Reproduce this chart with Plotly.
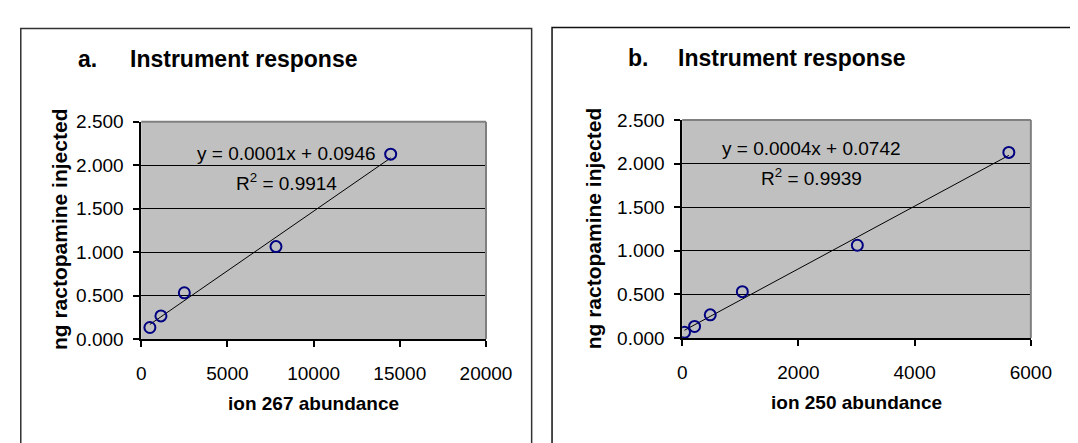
import numpy as np
import plotly.graph_objects as go

# ---- data ----
a_x = [504, 1145, 2502, 7818, 14471]
a_y = [0.133, 0.266, 0.532, 1.064, 2.128]
b_x = [40, 213, 483, 1035, 3014, 5621]
b_y = [0.0665, 0.133, 0.266, 0.532, 1.064, 2.128]

a_eq = "y = 0.0001x + 0.0946"
a_r2 = "R<sup>2</sup> = 0.9914"
b_eq = "y = 0.0004x + 0.0742"
b_r2 = "R<sup>2</sup> = 0.9939"

a_title = "Instrument response"
b_title = "Instrument response"
a_xlabel = "ion 267 abundance"
b_xlabel = "ion 250 abundance"
ylabel = "ng ractopamine injected"

W, H = 1078, 443
FONT = "Liberation Sans, Arial, sans-serif"


def px(x):
    return x / W


def py(y):
    return 1 - y / H


fig = go.Figure()

for xs, ys, xa, ya in [(a_x, a_y, "x", "y"), (b_x, b_y, "x2", "y2")]:
    slope, icpt = np.polyfit(xs, ys, 1)
    lx = [min(xs), max(xs)]
    ly = [slope * v + icpt for v in lx]
    fig.add_trace(go.Scatter(x=lx, y=ly, mode="lines", xaxis=xa, yaxis=ya,
                             line=dict(color="black", width=1), showlegend=False,
                             hoverinfo="skip"))
    fig.add_trace(go.Scatter(x=xs, y=ys, mode="markers", xaxis=xa, yaxis=ya,
                             marker=dict(symbol="circle-open", size=11, color="#000080",
                                         line=dict(width=2, color="#000080")),
                             showlegend=False))

axis_common = dict(showline=True, linecolor="black", linewidth=1.5, ticks="outside",
                   ticklen=6, tickcolor="black", tickwidth=1.5, zeroline=False,
                   tickfont=dict(family=FONT, size=19, color="black"))

# plot area pixel boxes
A = dict(x0=132, x1=487, y0=109, y1=337)
B = dict(x0=689, x1=1048, y0=107, y1=336)

fig.update_layout(
    width=W, height=H, margin=dict(l=0, r=0, t=0, b=0),
    paper_bgcolor="white", plot_bgcolor="#C0C0C0",
    xaxis=dict(domain=[px(A["x0"]), px(A["x1"])], range=[0, 20000], dtick=5000,
               tickformat="d", showgrid=False, anchor="y", ticklabelstandoff=10,
               **axis_common),
    yaxis=dict(domain=[py(A["y1"]), py(A["y0"])], range=[0, 2.5], dtick=0.5,
               tickformat=".3f", showgrid=True, gridcolor="black", gridwidth=1,
               anchor="x", ticklabelstandoff=6, **axis_common),
    xaxis2=dict(domain=[px(B["x0"]), px(B["x1"])], range=[0, 6000], dtick=2000,
                tickformat="d", showgrid=False, anchor="y2", ticklabelstandoff=10,
                **axis_common),
    yaxis2=dict(domain=[py(B["y1"]), py(B["y0"])], range=[0, 2.5], dtick=0.5,
                tickformat=".3f", showgrid=True, gridcolor="black", gridwidth=1,
                anchor="x2", ticklabelstandoff=6, **axis_common),
)

shapes = []
# panel borders
shapes.append(dict(type="rect", xref="paper", yref="paper", x0=px(8), x1=px(534),
                   y0=py(460), y1=py(11), line=dict(color="#333333", width=1.5),
                   layer="below"))
shapes.append(dict(type="rect", xref="paper", yref="paper", x0=px(555), x1=px(1100),
                   y0=py(460), y1=py(10), line=dict(color="#111111", width=1.5),
                   layer="below"))
# gray plot-area borders (top and right)
for P in (A, B):
    shapes.append(dict(type="line", xref="paper", yref="paper", x0=px(P["x0"]), x1=px(P["x1"]),
                       y0=py(P["y0"]), y1=py(P["y0"]), line=dict(color="#808080", width=2)))
    shapes.append(dict(type="line", xref="paper", yref="paper", x0=px(P["x1"]), x1=px(P["x1"]),
                       y0=py(P["y0"]), y1=py(P["y1"]), line=dict(color="#808080", width=2)))
fig.update_layout(shapes=shapes)

ann = []


def text(x, y, s, size=19, bold=False, xanchor="center", angle=0):
    ann.append(dict(x=px(x), y=py(y), xref="paper", yref="paper", text=(f"<b>{s}</b>" if bold else s),
                    showarrow=False, xanchor=xanchor, yanchor="middle", textangle=angle,
                    font=dict(family=FONT, size=size, color="black")))


# titles
text(65, 43, "a.", size=23, bold=True, xanchor="left")
text(118, 43, a_title, size=23, bold=True, xanchor="left")
text(631, 42, "b.", size=23, bold=True, xanchor="left")
text(683, 42, b_title, size=23, bold=True, xanchor="left")
# axis titles
text(309.5, 405, a_xlabel, size=19, bold=True)
text(868.5, 404, b_xlabel, size=19, bold=True)
text(48, 222, ylabel, size=21, bold=True, angle=-90)
text(598, 221, ylabel, size=21, bold=True, angle=-90)
# equations
text(282, 142, a_eq, size=19)
text(282, 172, a_r2, size=19)
text(822, 137, b_eq, size=19)
text(822, 167, b_r2, size=19)

fig.update_layout(annotations=ann)

fig.write_html("out.html")
